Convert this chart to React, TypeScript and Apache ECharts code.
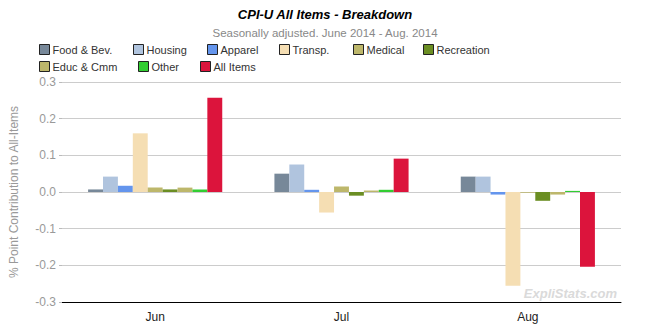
import React, { useEffect, useRef } from "react";
import * as echarts from "echarts";

const categories = ["Jun", "Jul", "Aug"];
const seriesNames = ["Food & Bev.", "Housing", "Apparel", "Transp.", "Medical", "Recreation", "Educ & Cmm", "Other", "All Items"];
const foodBev = [0.007, 0.05, 0.042];
const housing = [0.042, 0.075, 0.042];
const apparel = [0.017, 0.006, -0.007];
const transp = [0.16, -0.056, -0.256];
const medical = [0.012, 0.015, -0.002];
const recreation = [0.007, -0.01, -0.024];
const educCmm = [0.012, 0.004, -0.007];
const other = [0.007, 0.006, 0.003];
const allItems = [0.257, 0.091, -0.204];
const seriesValues = [foodBev, housing, apparel, transp, medical, recreation, educCmm, other, allItems];
const colors = ["#778899", "#B0C4DE", "#6495ED", "#F5DEB3", "#BDB76B", "#6B8E23", "#BDB76B", "#32CD32", "#DC143C"];
const legendPos = [
  [39, 44], [133, 44], [207, 44], [279, 44], [353, 44], [423, 44],
  [39, 61], [138, 61], [200, 61],
];

export default function App() {
  const ref = useRef<HTMLDivElement>(null);
  useEffect(() => {
    const chart = echarts.init(ref.current!, null, { renderer: "svg" });
    const font = "Liberation Sans, Arial, sans-serif";
    chart.setOption({
      animation: false,
      textStyle: { fontFamily: font },
      title: {
        text: "CPI-U All Items - Breakdown",
        subtext: "Seasonally adjusted. June 2014 - Aug. 2014",
        left: "center",
        top: 3,
        itemGap: 6,
        textStyle: { fontSize: 13, fontWeight: "bold", fontStyle: "italic", color: "#000", fontFamily: font },
        subtextStyle: { fontSize: 11.5, color: "#888", fontFamily: font },
      },
      legend: seriesNames.map((n, i) => ({
        data: [n],
        left: legendPos[i][0],
        top: legendPos[i][1],
        icon: "rect",
        itemWidth: 10,
        itemHeight: 10,
        itemGap: 3,
        padding: 0,
        textStyle: { fontSize: 11, color: "#333", fontFamily: font, padding: [0, 0, 0, -2] },
        itemStyle: { borderColor: "#222", borderWidth: 1 },
      })),
      grid: { left: 58, right: 29, top: 82, bottom: 28 },
      xAxis: {
        type: "category",
        data: categories,
        axisLine: { onZero: false, lineStyle: { color: "#000", width: 1 } },
        axisTick: { alignWithLabel: true, length: 5, lineStyle: { color: "#000" } },
        axisLabel: { fontSize: 12, color: "#222", margin: 9 },
      },
      yAxis: {
        type: "value",
        min: -0.3,
        max: 0.3,
        interval: 0.1,
        name: "% Point Contribution to All-Items",
        nameLocation: "middle",
        nameGap: 42,
        nameTextStyle: { fontSize: 12, color: "#999" },
        axisLine: { show: false },
        axisTick: { show: true, length: 3, lineStyle: { color: "#bbb" } },
        axisLabel: { fontSize: 12, color: "#999", margin: 6, formatter: (v: number) => v.toFixed(1) },
        splitLine: { lineStyle: { color: "#ccc", width: 1 } },
      },
      graphic: [
        {
          type: "text",
          right: 33,
          top: 287,
          style: { text: "ExpliStats.com", fontSize: 13, fontWeight: "bold", fontStyle: "italic", fill: "#dadada", fontFamily: font },
        },
      ],
      series: seriesNames.map((n, i) => ({
        name: n,
        type: "bar",
        data: seriesValues[i],
        barGap: "0%",
        barCategoryGap: "28%",
        itemStyle: { color: colors[i] },
      })),
    });
    return () => chart.dispose();
  }, []);
  return <div ref={ref} style={{ width: 650, height: 330, position: "absolute", left: 0, top: 0 }} />;
}
